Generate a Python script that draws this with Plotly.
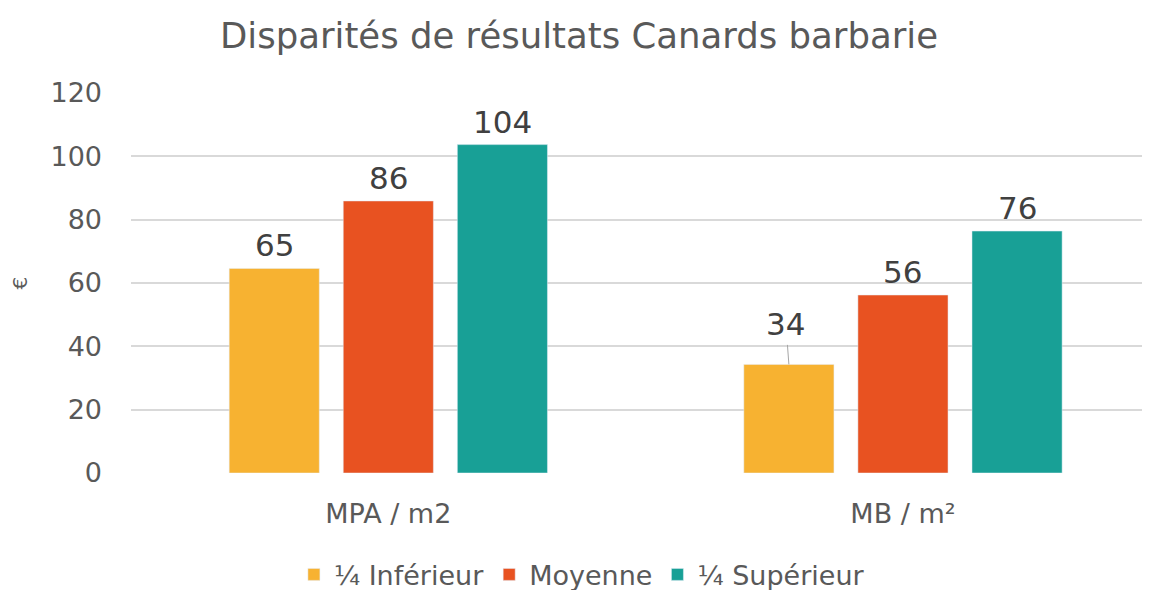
import plotly.graph_objects as go

categories = ["MPA / m2", "MB / m²"]
series_names = ["¼ Inférieur", "Moyenne", "¼ Supérieur"]
inferieur = [64.6, 34.3]
moyenne = [85.9, 56.2]
superieur = [103.7, 76.4]
colors = ["#F7B231", "#E85221", "#18A096"]
y_ticks = [0, 20, 40, 60, 80, 100, 120]

BARGAP = 0.335
BARGROUPGAP = 0.21
FONT = "DejaVu Sans"
LABEL_FONT = dict(family=FONT, size=31, color="#404040")

fig = go.Figure()
all_series = [inferieur, moyenne, superieur]
slot = (1 - BARGAP) / 3
for i, (name, vals, col) in enumerate(zip(series_names, all_series, colors)):
    fig.add_trace(go.Bar(
        x=categories, y=vals, name=name, marker_color=col,
        hoverinfo="skip",
    ))
    for j, v in enumerate(vals):
        xpos = j + (i - 1) * slot
        if i == 0 and j == 1:
            fig.add_annotation(
                x=xpos, y=v, xref="x", yref="y", text=f"{v:.0f}",
                showarrow=True, arrowhead=0, arrowwidth=1, arrowcolor="#A6A6A6",
                ax=-3, ay=-40, font=LABEL_FONT, standoff=0, startstandoff=1,
            )
        else:
            fig.add_annotation(
                x=xpos, y=v, xref="x", yref="y", text=f"{v:.0f}",
                showarrow=False, yanchor="bottom", yshift=3, font=LABEL_FONT,
            )

fig.update_layout(
    width=1142, height=582,
    margin=dict(l=123, r=0, t=85, b=117, autoexpand=False),
    paper_bgcolor="white", plot_bgcolor="white",
    barmode="group", bargap=BARGAP, bargroupgap=BARGROUPGAP,
    title=dict(text="Disparités de résultats Canards barbarie", x=0.5, xanchor="center",
               y=0.953, yanchor="middle",
               font=dict(family=FONT, size=35.5, color="#595959")),
    font=dict(family=FONT, color="#595959"),
    showlegend=True,
    legend=dict(orientation="h", x=0.4425, xanchor="center", y=-0.268, yanchor="middle",
                font=dict(family=FONT, size=27, color="#595959"),
                itemwidth=30, traceorder="normal"),
    yaxis=dict(range=[0, 120], tickvals=y_ticks, showgrid=True, gridcolor="#D9D9D9",
               gridwidth=1.5, zeroline=False, ticks="", ticklabelstandoff=28,
               automargin=False,
               tickfont=dict(family=FONT, size=27, color="#595959"),
               title=dict(text="€", font=dict(family=FONT, size=20, color="#595959"), standoff=24)),
    xaxis=dict(type="category", range=[-0.5, 1.48], showline=False, ticks="",
               automargin=False,
               tickfont=dict(family=FONT, size=27, color="#595959"), ticklabelstandoff=22),
)

fig.write_html("out.html")
